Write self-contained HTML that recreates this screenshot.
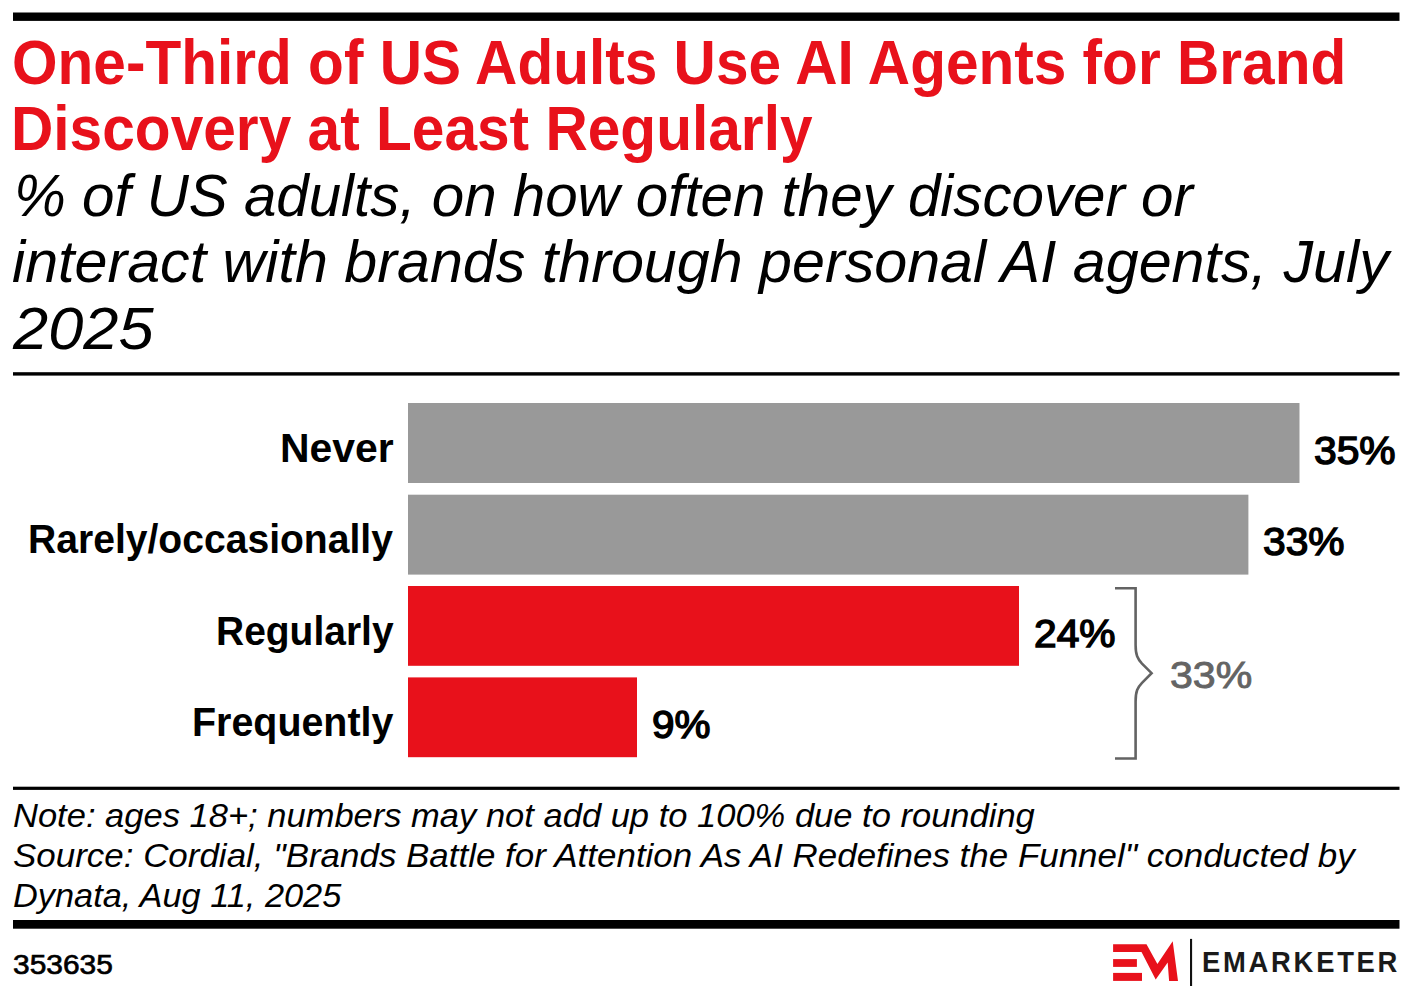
<!DOCTYPE html>
<html><head><meta charset="utf-8"><style>
html,body{margin:0;padding:0;background:#fff;}
body{width:1410px;height:997px;position:relative;overflow:hidden;font-family:"Liberation Sans",sans-serif;}
.tx{position:absolute;white-space:nowrap;transform-origin:0 0;}
.r{position:absolute;background:#000;}
</style></head><body>
<svg width="1410" height="997" style="position:absolute;left:0;top:0">
<rect x="13" y="12.5" width="1386.5" height="8.4" fill="#000"/>
<rect x="13" y="372.2" width="1386.5" height="3.4" fill="#000"/>
<rect x="13" y="786.7" width="1386.5" height="3.2" fill="#000"/>
<rect x="13" y="920" width="1386.5" height="8.7" fill="#000"/>
<rect x="408" y="403" width="891.5" height="80" fill="#999"/>
<rect x="408" y="494.7" width="840.4" height="79.9" fill="#999"/>
<rect x="408" y="586" width="611" height="79.8" fill="#e8111b"/>
<rect x="408" y="677.4" width="229" height="79.8" fill="#e8111b"/>
<path d="M1115 588.2 H1135.6 V645 C1135.6 655 1137.6 659 1142 663.6 L1151.6 673.2 L1142 682.8 C1137.6 687.4 1135.6 691.4 1135.6 701.4 V758.5 H1115" fill="none" stroke="#636363" stroke-width="2.6"/>
<polygon points="1113.1,944.2 1146.5,944.2 1157.4,964.0 1172.7,941.3 1178.0,980.9 1169.1,980.9 1167.7,962.6 1155.7,979.6 1141.5,952.0 1113.1,952.0" fill="#e8111b"/>
<rect x="1113.1" y="959.1" width="23.8" height="7.8" fill="#e8111b"/>
<rect x="1113.1" y="972.9" width="28.9" height="8" fill="#e8111b"/>
<rect x="1190" y="938.9" width="2.1" height="47.1" fill="#111"/>
</svg>
<div id="t1" class="tx" style="left:12.19px;top:31.10px;font-size:62.59px;line-height:62.59px;font-weight:700;font-style:normal;color:#e8111b;transform:scaleX(0.9360);letter-spacing:0.000px;">One-Third of US Adults Use AI Agents for Brand</div>
<div id="t2" class="tx" style="left:11.25px;top:97.31px;font-size:62.59px;line-height:62.59px;font-weight:700;font-style:normal;color:#e8111b;transform:scaleX(0.9368);letter-spacing:0.000px;">Discovery at Least Regularly</div>
<div id="s1" class="tx" style="left:14.06px;top:166.10px;font-size:59.22px;line-height:59.22px;font-weight:400;font-style:italic;color:#000;transform:scaleX(0.9839);letter-spacing:0.000px;">% of US adults, on how often they discover or</div>
<div id="s2" class="tx" style="left:12.22px;top:232.31px;font-size:59.22px;line-height:59.22px;font-weight:400;font-style:italic;color:#000;transform:scaleX(0.9998);letter-spacing:0.000px;">interact with brands through personal AI agents, July</div>
<div id="s3" class="tx" style="left:13.00px;top:299.10px;font-size:59.22px;line-height:59.22px;font-weight:400;font-style:italic;color:#000;transform:scaleX(1.0673);letter-spacing:0.000px;">2025</div>
<div id="c1" class="tx" style="left:279.90px;top:428.10px;font-size:40.89px;line-height:40.89px;font-weight:700;font-style:normal;color:#000;transform:scaleX(1.0007);letter-spacing:0.000px;">Never</div>
<div id="c2" class="tx" style="left:28.21px;top:518.90px;font-size:40.89px;line-height:40.89px;font-weight:700;font-style:normal;color:#000;transform:scaleX(0.9560);letter-spacing:0.000px;">Rarely/occasionally</div>
<div id="c3" class="tx" style="left:216.17px;top:611.10px;font-size:40.89px;line-height:40.89px;font-weight:700;font-style:normal;color:#000;transform:scaleX(0.9534);letter-spacing:0.000px;">Regularly</div>
<div id="c4" class="tx" style="left:191.73px;top:702.31px;font-size:40.89px;line-height:40.89px;font-weight:700;font-style:normal;color:#000;transform:scaleX(0.9640);letter-spacing:0.000px;">Frequently</div>
<div id="v1" class="tx" style="left:1314.32px;top:431.72px;font-size:38.29px;line-height:38.29px;font-weight:400;font-style:normal;color:#000;transform:scaleX(1.0654);letter-spacing:0.000px;-webkit-text-stroke:1.4px currentColor">35%</div>
<div id="v2" class="tx" style="left:1263.03px;top:523.00px;font-size:38.29px;line-height:38.29px;font-weight:400;font-style:normal;color:#000;transform:scaleX(1.0631);letter-spacing:0.000px;-webkit-text-stroke:1.4px currentColor">33%</div>
<div id="v3" class="tx" style="left:1034.30px;top:614.72px;font-size:38.29px;line-height:38.29px;font-weight:400;font-style:normal;color:#000;transform:scaleX(1.0633);letter-spacing:0.000px;-webkit-text-stroke:1.4px currentColor">24%</div>
<div id="v4" class="tx" style="left:651.64px;top:705.72px;font-size:38.29px;line-height:38.29px;font-weight:400;font-style:normal;color:#000;transform:scaleX(1.0566);letter-spacing:0.000px;-webkit-text-stroke:1.4px currentColor">9%</div>
<div id="g1" class="tx" style="left:1169.94px;top:657.31px;font-size:37.47px;line-height:37.47px;font-weight:400;font-style:normal;color:#646464;transform:scaleX(1.0967);letter-spacing:0.000px;-webkit-text-stroke:0.9px currentColor">33%</div>
<div id="n1" class="tx" style="left:13.08px;top:799.41px;font-size:33.88px;line-height:33.88px;font-weight:400;font-style:italic;color:#000;transform:scaleX(1.0189);letter-spacing:0.000px;">Note: ages 18+; numbers may not add up to 100% due to rounding</div>
<div id="n2" class="tx" style="left:13.10px;top:839.31px;font-size:33.88px;line-height:33.88px;font-weight:400;font-style:italic;color:#000;transform:scaleX(1.0315);letter-spacing:0.000px;">Source: Cordial, "Brands Battle for Attention As AI Redefines the Funnel" conducted by</div>
<div id="n3" class="tx" style="left:12.99px;top:879.41px;font-size:33.88px;line-height:33.88px;font-weight:400;font-style:italic;color:#000;transform:scaleX(1.0134);letter-spacing:0.000px;">Dynata, Aug 11, 2025</div>
<div id="id" class="tx" style="left:12.95px;top:951.21px;font-size:28.06px;line-height:28.06px;font-weight:400;font-style:normal;color:#000;transform:scaleX(1.0668);letter-spacing:0.000px;-webkit-text-stroke:0.7px currentColor">353635</div>
<div id="em" class="tx" style="left:1201.90px;top:947.40px;font-size:30.09px;line-height:30.09px;font-weight:700;font-style:normal;color:#1a1a1a;transform:scaleX(0.9110);letter-spacing:3.000px;">EMARKETER</div>
</body></html>
